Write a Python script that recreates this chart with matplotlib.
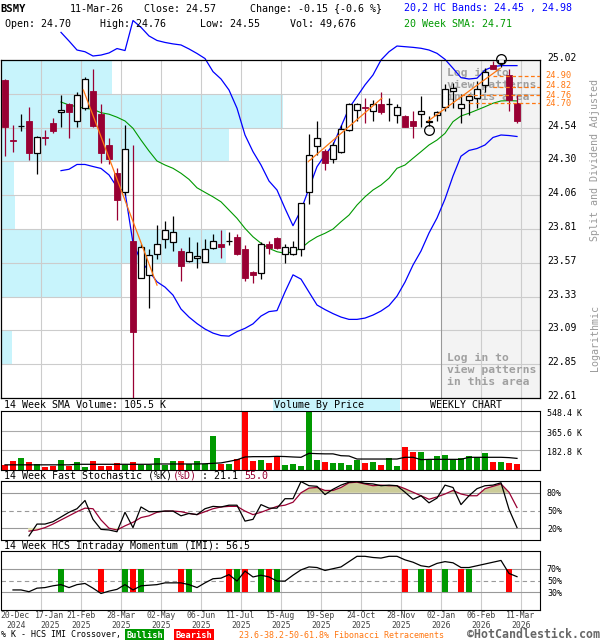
import numpy as np
import matplotlib.pyplot as plt
from matplotlib.patches import Rectangle
from matplotlib.ticker import FixedLocator, NullLocator
import matplotlib.transforms as mtransforms

plt.rcParams['font.family'] = ['DejaVu Sans Mono', 'DejaVu Sans']

nan = np.nan

# weekly OHLC, 20-Dec-2024 .. 11-Mar-2026
opens = [24.87, 24.43, 24.53, 24.57, 24.33, 24.45, 24.55, 24.63, 24.69, 24.57,
         24.66, 24.79, 24.62, 24.39, 24.19, 24.05, 23.70, 23.44, 23.46, 23.61,
         23.71, 23.69, 23.63, 23.56, 23.58, 23.55, 23.65, 23.68, 23.70, 23.73,
         23.64, 23.48, 23.47, 23.68, 23.72, 23.61, 23.61, 23.64, 24.05, 24.38,
         24.35, 24.29, 24.34, 24.50, 24.65, 24.67, 24.64, 24.69, 24.69, 24.61,
         24.60, 24.57, 24.62, 24.56, 24.61, 24.67, 24.79, 24.66, 24.72, 24.74,
         24.83, 24.98, 25.00, 24.91, 24.70]
highs = [24.88, 24.54, 24.62, 24.67, 24.46, 24.50, 24.59, 24.76, 24.70, 24.78,
         24.89, 24.95, 24.69, 24.44, 24.22, 24.54, 24.39, 23.68, 23.64, 23.81,
         23.84, 23.88, 23.65, 23.73, 23.69, 23.71, 23.75, 23.78, 23.76, 23.75,
         23.67, 23.49, 23.69, 23.70, 23.73, 23.68, 23.70, 23.97, 24.47, 24.57,
         24.36, 24.41, 24.54, 24.70, 24.70, 24.74, 24.72, 24.78, 24.74, 24.69,
         24.61, 24.64, 24.75, 24.60, 24.64, 24.84, 24.85, 24.77, 24.77, 24.86,
         24.96, 25.01, 25.05, 24.95, 24.76]
lows = [24.31, 24.34, 24.49, 24.28, 24.18, 24.39, 24.48, 24.52, 24.44, 24.52,
        24.65, 24.52, 24.26, 24.25, 23.85, 24.03, 22.58, 23.44, 23.23, 23.57,
        23.65, 23.63, 23.42, 23.55, 23.51, 23.55, 23.64, 23.58, 23.67, 23.60,
        23.42, 23.40, 23.43, 23.61, 23.64, 23.54, 23.60, 23.59, 23.96, 24.32,
        24.21, 24.26, 24.33, 24.49, 24.57, 24.55, 24.57, 24.62, 24.57, 24.55,
        24.52, 24.44, 24.52, 24.53, 24.57, 24.64, 24.66, 24.55, 24.61, 24.66,
        24.78, 24.95, 24.97, 24.64, 24.55]
closes = [24.52, 24.42, 24.53, 24.33, 24.45, 24.44, 24.49, 24.65, 24.63, 24.76,
          24.88, 24.53, 24.33, 24.29, 23.99, 24.36, 23.06, 23.66, 23.60, 23.68,
          23.78, 23.76, 23.52, 23.62, 23.59, 23.64, 23.70, 23.66, 23.70, 23.61,
          23.44, 23.46, 23.68, 23.65, 23.65, 23.66, 23.66, 23.97, 24.32, 24.44,
          24.26, 24.39, 24.51, 24.69, 24.69, 24.66, 24.69, 24.63, 24.69, 24.67,
          24.52, 24.53, 24.64, 24.57, 24.63, 24.80, 24.81, 24.69, 24.75, 24.80,
          24.93, 24.95, 25.03, 24.72, 24.57]

sma20 = [nan] * 7 + [
    24.707, 24.685, 24.672, 24.661, 24.653, 24.628, 24.617, 24.595, 24.567, 24.513,
    24.427, 24.347, 24.274, 24.245, 24.221, 24.185, 24.141, 24.080, 24.047, 24.015,
    23.979, 23.920, 23.861, 23.789, 23.729, 23.683, 23.647, 23.623, 23.612, 23.623,
    23.647, 23.694, 23.729, 23.754, 23.784, 23.836, 23.884, 23.956, 24.015, 24.064,
    24.100, 24.149, 24.221, 24.245, 24.294, 24.342, 24.391, 24.427, 24.476, 24.562,
    24.604, 24.624, 24.648, 24.672, 24.698, 24.715, 24.717, 24.715]
hc_upper = [nan] * 7 + [
    25.228, 25.163, 25.095, 25.082, 25.050, 25.057, 25.073, 25.106, 25.091, 25.318,
    25.266, 25.201, 25.167, 25.152, 25.141, 25.133, 25.103, 25.069, 25.031, 24.933,
    24.878, 24.796, 24.661, 24.464, 24.342, 24.245, 24.129, 24.064, 23.932, 23.808,
    23.920, 24.076, 24.233, 24.318, 24.391, 24.525, 24.661, 24.747, 24.834, 24.908,
    25.020, 25.082, 25.125, 25.120, 25.115, 25.108, 25.095, 25.070, 25.025, 24.958,
    24.888, 24.878, 24.884, 24.945, 24.970, 24.978, 24.978, 24.978]
hc_lower = [nan] * 7 + [
    24.204, 24.214, 24.249, 24.249, 24.234, 24.220, 24.173, 24.085, 24.051, 23.685,
    23.557, 23.486, 23.411, 23.374, 23.318, 23.221, 23.165, 23.120, 23.082, 23.054,
    23.037, 23.033, 23.064, 23.087, 23.118, 23.172, 23.203, 23.210, 23.340, 23.460,
    23.430, 23.339, 23.249, 23.217, 23.189, 23.165, 23.149, 23.149, 23.158, 23.179,
    23.207, 23.245, 23.311, 23.409, 23.529, 23.628, 23.756, 23.863, 23.999, 24.165,
    24.309, 24.351, 24.365, 24.391, 24.446, 24.464, 24.460, 24.453]

# trend lines: (start week, start price, end week, end price)
trend_lines = [(9.8, 24.796, 19.0, 23.388),
               (37.9, 24.269, 47.1, 24.735),
               (52.9, 24.567, 61.9, 24.958)]
fib_levels = [24.90, 24.82, 24.76, 24.70]
fib_start = [61, 61, 57, 58]
circle_weeks = [53, 62]
circle_prices = [24.50, 25.03]

price_ticks = [25.02, 24.768, 24.518, 24.271, 24.026, 23.784, 23.544, 23.307, 23.072, 22.839, 22.61]
price_labels = ["25.02", "", "24.54", "24.30", "24.06", "23.81", "23.57", "23.33", "23.09", "22.85", "22.61"]
vbp_share = [20.6, 52.3, 42.3, 2.4, 2.6, 41.7, 22.3, 0.0, 2.0, 0.0]  # % of chart width per price band

volume_k = [46, 84, 112, 74, 53, 31, 37, 93, 37, 74,
            28, 84, 37, 37, 62, 50, 74, 50, 50, 112,
            50, 84, 84, 53, 84, 56, 316, 56, 56, 102,
            548, 84, 93, 65, 127, 46, 56, 40, 548, 93,
            74, 65, 65, 46, 93, 65, 74, 46, 112, 37,
            214, 167, 167, 93, 130, 139, 102, 112, 130, 121,
            158, 74, 74, 65, 56]
vol_sma_k = [48, 48, 48, 48, 48, 48, 48, 48, 48, 53,
             53, 53, 53, 53, 53, 53, 53, 53, 53, 56,
             56, 56, 56, 56, 56, 58, 62, 66, 80, 95,
             121, 124, 124, 124, 127, 125, 121, 118, 155, 152,
             150, 150, 133, 130, 102, 102, 102, 102, 102, 102,
             118, 118, 96, 99, 99, 99, 99, 99, 118, 118,
             118, 118, 118, 115, 108]

stoch_k = [nan, nan, nan, 7, 27, 27, 31, 39, 47, 53,
           67, 35, 18, 17, 14, 47, 21, 56, 48, 48,
           49, 49, 41, 45, 43, 53, 57, 56, 59, 59,
           32, 35, 60, 54, 54, 70, 70, 99, 92, 91,
           77, 86, 93, 98, 99, 96, 95, 92, 93, 92,
           81, 69, 75, 63, 71, 93, 89, 60, 75, 87,
           92, 93, 97, 52, 21.1]
stoch_d = [nan, nan, nan, 15, 17, 21, 27, 34, 41, 48,
           54, 53, 34, 20, 17, 24, 30, 38, 41, 47,
           49, 49, 48, 45, 43, 48, 53, 56, 57, 57,
           49, 43, 47, 52, 57, 59, 64, 80, 88, 89,
           84, 84, 89, 97, 98, 95, 92, 93, 92, 92,
           87, 81, 75, 69, 73, 78, 84, 78, 75, 75,
           87, 91, 95, 81, 55.0]
imi = [nan, 34, 34, 31, 37, 38, 41, 43, 38, 43,
       45, 37, 28, 32, 35, 43, 34, 41, 42, 43,
       46, 46, 46, 43, 38, 46, 53, 54, 60, 49,
       66, 56, 59, 56, 49, 49, 59, 68, 73, 72,
       67, 70, 73, 82, 91, 91, 89, 88, 91, 91,
       85, 81, 75, 73, 79, 82, 80, 72, 72, 75,
       78, 81, 84, 62, 56.5]
bull_weeks = [7, 15, 17, 23, 29, 32, 34, 52, 55, 58]
bear_weeks = [12, 16, 22, 28, 30, 33, 50, 53, 57, 63]

date_pos = [1.0, 5.6, 9.5, 14.5, 19.5, 24.5, 29.5, 34.5, 39.5, 44.5, 49.5, 54.5, 59.5, 64.5]
date_top = ["20-Dec", "17-Jan", "21-Feb", "28-Mar", "02-May", "06-Jun", "11-Jul",
            "15-Aug", "19-Sep", "24-Oct", "28-Nov", "02-Jan", "06-Feb", "11-Mar"]
date_year = ["2024", "2025", "2025", "2025", "2025", "2025", "2025",
             "2025", "2025", "2025", "2025", "2026", "2026", "2026"]

W, H = 600, 640
GRID = '#cccccc'
RED_C = '#990033'
ORANGE = '#ff7711'

fig = plt.figure(figsize=(6, 6.4), dpi=100)


def box(l, t, r, b):
    return [l / W, 1 - b / H, (r - l) / W, (b - t) / H]


def ftext(px, py, s, **kw):
    kw.setdefault('va', 'center')
    return fig.text(px / W, 1 - py / H, s, **kw)


def shift(labels, dy_px):
    off = mtransforms.ScaledTranslation(0, dy_px / 100, fig.dpi_scale_trans)
    for lbl in labels:
        lbl.set_transform(lbl.get_transform() + off)


o = np.array(opens); c = np.array(closes)
hi = np.array(highs); lo = np.array(lows)
n = len(o)
x = np.arange(n)
up = c >= o
xmin, xmax = -0.5, -0.5 + 539 / 8
grid_x = np.arange(4.5, n, 5)

# background vertical grid (shows in the strips between panels)
bg = fig.add_axes(box(1, 60, 540, 610))
bg.set_xlim(xmin, xmax)
bg.axis('off')
for g in grid_x:
    bg.axvline(g, color=GRID, lw=0.8)

# ---------------- price panel ----------------
ax = fig.add_axes(box(1, 60, 540, 398))
ax.set_yscale('log')
ax.set_xlim(xmin, xmax)
ax.set_ylim(price_ticks[-1], price_ticks[0])
blend = mtransforms.blended_transform_factory(ax.transAxes, ax.transData)
for k, share in enumerate(vbp_share):
    if share > 0:
        ax.add_patch(Rectangle((0, price_ticks[k + 1]), share / 100,
                               price_ticks[k] - price_ticks[k + 1],
                               transform=blend, facecolor='#c8f4fc', edgecolor='none', zorder=0.3))
ax.add_patch(Rectangle((54.5, price_ticks[-1]), xmax - 54.5, price_ticks[0] - price_ticks[-1],
                       facecolor='#f3f3f3', edgecolor='none', zorder=0.2))
for t in price_ticks[1:-1]:
    ax.axhline(t, color=GRID, lw=0.8, zorder=1)
for g in grid_x:
    ax.axvline(g, color='#999999' if g == 54.5 else GRID, lw=0.8, zorder=1)

for ty in (68, 353):
    ax.text(447 / W, 1 - ty / H, "Log in to\nview patterns\nin this area", transform=fig.transFigure,
            fontsize=8.2, fontweight='bold', color='#a0a0a0', va='top', linespacing=1.25, zorder=1.5)

ax.plot(x, sma20, color='#009900', lw=0.8, zorder=2)
ax.plot(x, hc_upper, color='#0000ff', lw=0.9, zorder=2, clip_on=False)
ax.plot(x, hc_lower, color='#0000ff', lw=0.9, zorder=2)

body_lo = np.minimum(o, c); body_hi = np.maximum(o, c)
ax.vlines(x, lo, hi, colors=np.where(up, 'black', RED_C), lw=0.9, zorder=3)
ax.bar(x[up], (body_hi - body_lo)[up], bottom=body_lo[up], width=0.75,
       facecolor='white', edgecolor='black', lw=0.9, zorder=4)
ax.bar(x[~up], (body_hi - body_lo)[~up], bottom=body_lo[~up], width=0.75,
       facecolor=RED_C, edgecolor=RED_C, lw=0.6, zorder=4)

for x0, p0, x1, p1 in trend_lines:
    ax.plot([x0, x1], [p0, p1], color=ORANGE, lw=0.9, zorder=5)
fib_nudge = [0.5, 1.5, -0.5, -1.0]  # small pixel nudges so labels don't collide
for lev, st, dy in zip(fib_levels, fib_start, fib_nudge):
    ax.hlines(lev, st, xmax, colors=ORANGE, linestyles=(0, (3, 2)), lw=0.9, zorder=5)
    t = ax.text(1 + 5 / 539, lev, f"{lev:.2f}", transform=blend, color=ORANGE,
                fontsize=6.2, va='center', clip_on=False)
    shift([t], dy)
ax.plot(circle_weeks, circle_prices, 'o', ms=7, mfc='none', mec='black', mew=0.9,
        zorder=6, clip_on=False)

ax.yaxis.tick_right()
ax.yaxis.set_major_locator(FixedLocator(price_ticks))
ax.yaxis.set_minor_locator(NullLocator())
ax.set_yticklabels(price_labels)
ax.tick_params(axis='y', length=0, pad=5, labelsize=7)
ax.tick_params(axis='x', bottom=False, labelbottom=False)
shift(ax.get_yticklabels(), 3)
for s in ax.spines.values():
    s.set_linewidth(0.9)

# ---------------- volume panel ----------------
av = fig.add_axes(box(1, 411, 540, 470))
av.set_xlim(xmin, xmax)
av.set_ylim(0, 548.4)
for g in grid_x:
    av.axvline(g, color=GRID, lw=0.8, zorder=0.5)
for t in (182.8, 365.6):
    av.axhline(t, color='#aaaaaa', lw=0.8, zorder=0.5)
av.bar(x, volume_k, width=0.75, color=np.where(up, '#009900', '#ff0000'), zorder=2)
av.plot(x, vol_sma_k, color='black', lw=0.9, zorder=3)
av.yaxis.tick_right()
av.set_yticks([182.8, 365.6, 548.4])
av.set_yticklabels(["182.8 K", "365.6 K", "548.4 K"])
av.tick_params(axis='y', length=0, pad=5, labelsize=6)
av.tick_params(axis='x', bottom=False, labelbottom=False)
shift(av.get_yticklabels(), -1.5)

# ---------------- stochastic panel ----------------
ast = fig.add_axes(box(1, 481, 540, 540))
ast.set_xlim(xmin, xmax)
ast.set_ylim(0, 100)
K = np.array(stoch_k); D = np.array(stoch_d)
Dz = np.nan_to_num(D, nan=50)
for g in grid_x:
    ast.axvline(g, color=GRID, lw=0.8, zorder=0.5)
ast.axhline(80, color='#999999', lw=0.8, zorder=0.6)
ast.axhline(20, color='#999999', lw=0.8, zorder=0.6)
ast.axhline(50, color='#999999', lw=0.8, ls=(0, (4, 3)), zorder=0.6)
ast.fill_between(x, 80, Dz, where=Dz > 80, interpolate=True, color='#cccc99', lw=0, zorder=1)
ast.fill_between(x, 20, Dz, where=Dz < 20, interpolate=True, color='#e8e8b0', lw=0, zorder=1)
ast.plot(x, D, color=RED_C, lw=0.9, zorder=2)
ast.plot(x, K, color='black', lw=0.9, zorder=3)
ast.yaxis.tick_right()
ast.set_yticks([20, 50, 80])
ast.set_yticklabels(["20%", "50%", "80%"])
ast.tick_params(axis='y', length=0, pad=5, labelsize=6)
ast.tick_params(axis='x', bottom=False, labelbottom=False)

# ---------------- IMI panel ----------------
ai = fig.add_axes(box(1, 551, 540, 610))
ai.set_xlim(xmin, xmax)
ai.set_ylim(0, 100)
for g in grid_x:
    ai.axvline(g, color=GRID, lw=0.8, zorder=0.5)
ai.axhline(70, color='#999999', lw=0.8, zorder=0.6)
ai.axhline(30, color='#999999', lw=0.8, zorder=0.6)
ai.axhline(50, color='#999999', lw=0.8, ls=(0, (4, 3)), zorder=0.6)
ai.bar(bull_weeks, 40, bottom=30, width=0.75, color='#009900', zorder=1)
ai.bar(bear_weeks, 40, bottom=30, width=0.75, color='#ff0000', zorder=1)
ai.plot(x, imi, color='black', lw=0.9, zorder=3)
ai.yaxis.tick_right()
ai.set_yticks([30, 50, 70])
ai.set_yticklabels(["30%", "50%", "70%"])
ai.tick_params(axis='y', length=0, pad=5, labelsize=6)
ai.tick_params(axis='x', bottom=False, labelbottom=False)

dtr = mtransforms.blended_transform_factory(ai.transData, fig.transFigure)
for k, (p, d, yr) in enumerate(zip(date_pos, date_top, date_year)):
    if k == 0:
        # first label sits flush with the left edge
        ftext(0.5, 616, d, fontsize=5.9, color='#444444')
        ftext(0.5 + 5.5, 625, yr, fontsize=5.9, color='#444444')
        continue
    ai.text(p, 1 - 616 / H, d, transform=dtr, ha='center', va='center', fontsize=5.9, color='#444444')
    ai.text(p, 1 - 625 / H, yr, transform=dtr, ha='center', va='center', fontsize=5.9, color='#444444')

# ---------------- header and labels ----------------
HS = 7.2
ftext(0, 8.5, "BSMY", fontsize=7.6, fontweight='bold')
ftext(70, 8.5, "11-Mar-26", fontsize=HS)
ftext(144, 8.5, "Close: 24.57", fontsize=HS)
ftext(250, 8.5, "Change: -0.15 {-0.6 %}", fontsize=HS)
ftext(5, 24, "Open: 24.70", fontsize=HS)
ftext(100, 24, "High: 24.76", fontsize=HS)
ftext(200, 24, "Low: 24.55", fontsize=HS)
ftext(290, 24, "Vol: 49,676", fontsize=HS)
ftext(404, 8.5, "20,2 HC Bands: 24.45 , 24.98", fontsize=HS, color='#0000ff')
ftext(404, 24, "20 Week SMA: 24.71", fontsize=HS, color='#009900')

ftext(595, 160, "Split and Dividend Adjusted", fontsize=7.2, color='#999999', rotation=90, ha='center')
ftext(595, 338, "Logarithmic", fontsize=7.2, color='#999999', rotation=90, ha='center')

ftext(4, 405, "14 Week SMA Volume: 105.5 K", fontsize=HS)
fig.patches.append(Rectangle((273 / W, 1 - 411 / H), 127 / W, 12 / H, transform=fig.transFigure,
                             facecolor='#c8f4fc', edgecolor='none', zorder=2))
ftext(274, 405, "Volume By Price", fontsize=HS)
ftext(430, 405, "WEEKLY CHART", fontsize=HS)

ftext(4, 476, "14 Week Fast Stochastic (%K)", fontsize=HS)
ftext(172.5, 476, "(%D)", fontsize=HS, color=RED_C)
ftext(202.5, 476, ": 21.1", fontsize=HS)
ftext(244.5, 476, "55.0", fontsize=HS, color=RED_C)
ftext(4, 546, "14 Week HCS Intraday Momentum (IMI): 56.5", fontsize=HS)

ftext(1, 635, "% K - HCS IMI Crossover,", fontsize=6)
ftext(144.5, 635, "Bullish", fontsize=6.2, color='white', ha='center', fontweight='bold',
      bbox=dict(boxstyle='square,pad=0.15', facecolor='#009900', edgecolor='none'))
ftext(194, 635, "Bearish", fontsize=6.2, color='white', ha='center', fontweight='bold',
      bbox=dict(boxstyle='square,pad=0.15', facecolor='#ff0000', edgecolor='none'))
ftext(239, 635, "23.6-38.2-50-61.8% Fibonacci Retracements", fontsize=6, color=ORANGE)
ftext(600, 635, "\u00a9HotCandlestick.com", fontsize=8.4, color='#666666', fontweight='bold', ha='right')

fig.savefig("out.png", dpi=100)
